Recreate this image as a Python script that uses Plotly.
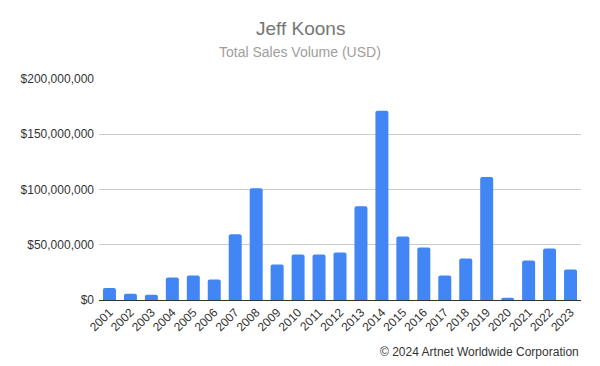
import plotly.graph_objects as go

years = [str(y) for y in range(2001, 2024)]
sales = [10.9e6, 5.7e6, 4.8e6, 20.3e6, 22.1e6, 18.5e6, 59.4e6, 101.2e6, 32.1e6, 41.2e6,
         41.2e6, 43.0e6, 84.8e6, 171.2e6, 57.5e6, 47.5e6, 22.1e6, 37.5e6, 111.2e6, 2.1e6,
         35.7e6, 46.6e6, 27.5e6]
tick_vals = [0, 50e6, 100e6, 150e6, 200e6]
tick_text = ["$0", "$50,000,000", "$100,000,000", "$150,000,000", "$200,000,000"]

FONT = "Arial, Liberation Sans, sans-serif"

# page body has an 8px default margin; figure is placed at (8, 8)
OFF = 8
W, H = 600 - OFF, 366 - OFF
L, T, R, B = 99 - OFF, 79 - OFF, 19, 66
pw, ph = W - L - R, H - T - B


def px_to_paper(xp, yp):
    xi, yi = xp - OFF, yp - OFF
    return (xi - L) / pw, (H - B - yi) / ph


fig = go.Figure(go.Bar(x=years, y=sales, marker_color="#4285f4", marker_line_width=0))

tx, ty = px_to_paper(300, 29)
sx, sy = px_to_paper(300, 52)
cx, cy = px_to_paper(581, 352)

fig.update_layout(
    width=W, height=H,
    margin=dict(l=L, r=R, t=T, b=B, autoexpand=False),
    paper_bgcolor="white", plot_bgcolor="white",
    bargap=0.38,
    barcornerradius=2,
    showlegend=False,
    font=dict(family=FONT, size=12, color="#333333"),
    annotations=[
        dict(text="Jeff Koons", x=tx, y=ty, xref="paper", yref="paper", showarrow=False,
             font=dict(size=19, color="#757575", family=FONT), xanchor="center", yanchor="middle"),
        dict(text="Total Sales Volume (USD)", x=sx, y=sy, xref="paper", yref="paper", showarrow=False,
             font=dict(size=14, color="#9e9e9e", family=FONT), xanchor="center", yanchor="middle"),
        dict(text="© 2024 Artnet Worldwide Corporation", x=cx, y=cy, xref="paper", yref="paper",
             showarrow=False, font=dict(size=12, color="#333333", family=FONT),
             xanchor="right", yanchor="middle"),
    ],
)

fig.update_xaxes(tickangle=-45, tickfont=dict(size=12, color="#333333"), showgrid=False,
                 showline=False, ticks="", ticklabelstandoff=2)
fig.update_yaxes(range=[0, 200e6], tickvals=tick_vals, ticktext=tick_text,
                 showgrid=True, gridcolor="#cccccc", gridwidth=1,
                 zeroline=True, zerolinecolor="#333333", zerolinewidth=1,
                 tickfont=dict(size=12, color="#333333"), ticks="", showline=False,
                 ticklabelstandoff=4)

fig.write_html("out.html")
